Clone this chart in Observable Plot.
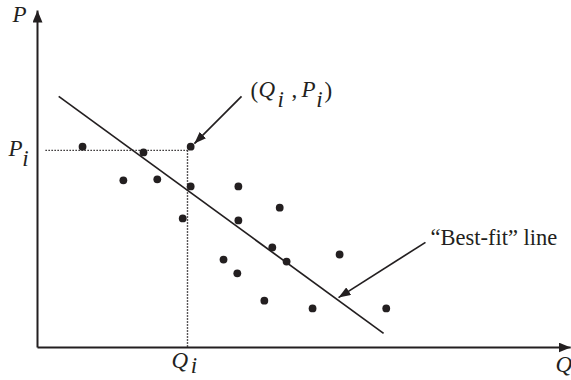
<!DOCTYPE html>
<html>
<head>
<meta charset="utf-8">
<script src="https://cdn.jsdelivr.net/npm/d3@7"></script>
<script src="https://cdn.jsdelivr.net/npm/@observablehq/plot@0.6"></script>
<style>
  html, body { margin: 0; padding: 0; background: #fff; }
  #chart svg { display: block; }
</style>
</head>
<body>
<div id="chart"></div>
<script>
// Scatter points (Q, P) in chart units (axes run 0..100)
const qValues = [8.5, 20.0, 28.9, 16.2, 22.6, 28.9, 37.9, 27.4, 37.9, 45.7, 44.3, 47.0, 35.1, 37.7, 57.0, 42.8, 51.9, 65.8];
const pValues = [59.6, 57.9, 59.6, 49.6, 49.9, 47.8, 47.8, 38.3, 37.7, 41.5, 29.7, 25.5, 26.1, 22.0, 27.6, 13.9, 11.6, 11.6];

// Best-fit line endpoints
const fitQ = [4.0, 65.3];
const fitP = [74.5, 4.2];

// Highlighted observation guide lines (Qi, Pi)
const guideQ = 28.3;
const guideP = 58.5;
const guideStartQ = 1.5;

// Axes extents
const axisQEnd = 100.6;
const axisPEnd = 100;

// Annotation arrows: start and tip
const arrowFrom = [[38.5, 74.5], [73.2, 31.2]];
const arrowTo = [[29.6, 60.5], [56.8, 14.8]];

// Text labels
const italicLabels = [
  {x: -4.72, y: 96.59, t: "P"},
  {x: -5.47, y: 56.97, t: "P"},
  {x: -2.9, y: 53.71, t: "i"},
  {x: 25.3, y: -6.2, t: "Q"},
  {x: 28.9, y: -7.6, t: "i"},
  {x: 97.74, y: -7.2, t: "Q"},
  {x: 41.7, y: 74.48, t: "Q"},
  {x: 45.3, y: 71.51, t: "i"},
  {x: 49.81, y: 74.48, t: "P"},
  {x: 52.6, y: 71.51, t: "i"}
];
const punctLabels = [
  {x: 40.19, y: 74.18, t: "("},
  {x: 47.92, y: 74.48, t: ","},
  {x: 54.15, y: 74.18, t: ")"}
];
const noteLabels = [
  {x: 74.15, y: 30.56, t: "\u201CBest-fit\u201D line"}
];

const points = qValues.map((q, i) => ({q, p: pValues[i]}));
const arrows = arrowFrom.map((a, i) => ({x1: a[0], y1: a[1], x2: arrowTo[i][0], y2: arrowTo[i][1]}));

function filledHead(len, half) {
  return (color, context) => {
    const doc = (context && context.document) || document;
    const ns = "http://www.w3.org/2000/svg";
    const m = doc.createElementNS(ns, "marker");
    m.setAttribute("viewBox", `${-len} ${-half} ${len} ${2 * half}`);
    m.setAttribute("markerWidth", len);
    m.setAttribute("markerHeight", 2 * half);
    m.setAttribute("markerUnits", "userSpaceOnUse");
    m.setAttribute("refX", 0);
    m.setAttribute("refY", 0);
    m.setAttribute("orient", "auto");
    const p = doc.createElementNS(ns, "path");
    p.setAttribute("d", `M0,0L${-len},${-half}L${-len},${half}Z`);
    p.setAttribute("fill", color);
    p.setAttribute("stroke", "none");
    m.appendChild(p);
    return m;
  };
}

const font = "'Liberation Serif', 'Times New Roman', 'DejaVu Serif', serif";
const ink = "#231f20";

const chart = Plot.plot({
  width: 571,
  height: 380,
  margin: 0,
  style: {background: "#fff", color: ink},
  x: {domain: [0, 100], range: [37, 567], axis: null},
  y: {domain: [0, 100], range: [347, 10], axis: null},
  marks: [
    // dotted guides
    Plot.link([{}], {x1: guideStartQ, y1: guideP, x2: guideQ, y2: guideP, stroke: ink, strokeWidth: 1.4, strokeDasharray: "1.4,1.6"}),
    Plot.link([{}], {x1: guideQ, y1: guideP, x2: guideQ, y2: 0, stroke: ink, strokeWidth: 1.4, strokeDasharray: "1.4,1.6"}),
    // axes
    Plot.link([{}], {x1: 0, y1: 0, x2: 0, y2: axisPEnd, stroke: ink, strokeWidth: 2, markerEnd: filledHead(12, 5)}),
    Plot.link([{}], {x1: 0, y1: 0, x2: axisQEnd, y2: 0, stroke: ink, strokeWidth: 2, markerEnd: filledHead(12, 5)}),
    // best-fit line
    Plot.link([{}], {x1: fitQ[0], y1: fitP[0], x2: fitQ[1], y2: fitP[1], stroke: ink, strokeWidth: 1.7}),
    // annotation arrows
    Plot.link(arrows, {x1: "x1", y1: "y1", x2: "x2", y2: "y2", stroke: ink, strokeWidth: 1.7, markerEnd: filledHead(12, 4.5)}),
    // points
    Plot.dot(points, {x: "q", y: "p", r: 3.9, fill: ink, stroke: null}),
    // labels
    Plot.text(italicLabels, {x: "x", y: "y", text: "t", textAnchor: "start", lineAnchor: "bottom", fontSize: 23, fontStyle: "italic", fontFamily: font, fill: ink}),
    Plot.text(punctLabels, {x: "x", y: "y", text: "t", textAnchor: "start", lineAnchor: "bottom", fontSize: 23, fontFamily: font, fill: ink}),
    Plot.text(noteLabels, {x: "x", y: "y", text: "t", textAnchor: "start", lineAnchor: "bottom", fontSize: 22.5, fontFamily: font, fill: ink})
  ]
});
document.getElementById("chart").appendChild(chart);
</script>
</body>
</html>
